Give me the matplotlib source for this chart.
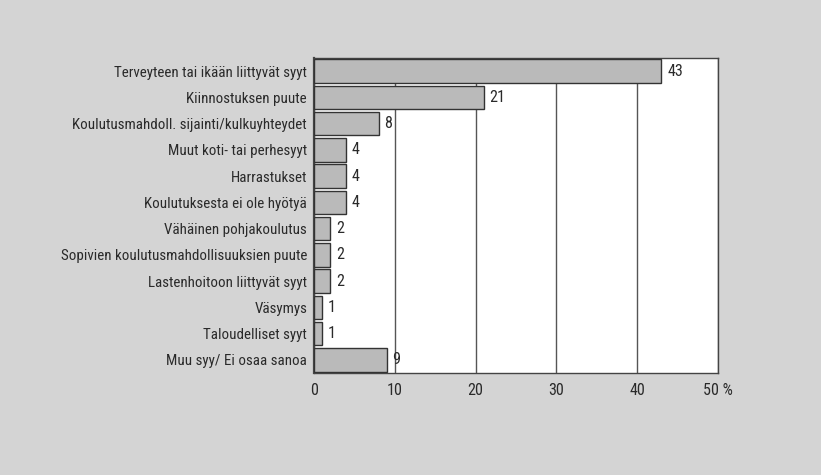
import matplotlib
matplotlib.use("Agg")
import matplotlib.pyplot as plt
from matplotlib import font_manager

categories = [
    "Terveyteen tai ikään liittyvät syyt",
    "Kiinnostuksen puute",
    "Koulutusmahdoll. sijainti/kulkuyhteydet",
    "Muut koti- tai perhesyyt",
    "Harrastukset",
    "Koulutuksesta ei ole hyötyä",
    "Vähäinen pohjakoulutus",
    "Sopivien koulutusmahdollisuuksien puute",
    "Lastenhoitoon liittyvät syyt",
    "Väsymys",
    "Taloudelliset syyt",
    "Muu syy/ Ei osaa sanoa",
]
values = [43, 21, 8, 4, 4, 4, 2, 2, 2, 1, 1, 9]
x_ticks = [0, 10, 20, 30, 40, 50]
x_tick_labels = ["0", "10", "20", "30", "40", "50 %"]

# Prefer a condensed sans face for the labels
names = {f.name for f in font_manager.fontManager.ttflist}
stretch = "normal"
fsize = 8.6
for cand, sz in [("Liberation Sans Narrow", 11.3), ("Roboto Condensed", 10.8),
                 ("Open Sans Condensed", 10.8), ("DejaVu Sans Condensed", 10.2)]:
    if cand in names:
        family = cand
        fsize = sz
        break
else:
    family = "DejaVu Sans"
    cond = [f for f in font_manager.fontManager.ttflist
            if f.name == "DejaVu Sans" and str(f.stretch) in ("condensed", "semi-condensed")]
    if cond:
        stretch = "condensed"
        fsize = 10.2
plt.rcParams["font.family"] = [family, "DejaVu Sans"]
plt.rcParams["font.stretch"] = stretch

bg = "#d4d4d4"
text_c = "#2a2a2a"

fig = plt.figure(figsize=(8.21, 4.75), dpi=100, facecolor=bg)
ax = fig.add_axes([0.3825, 0.2147, 0.492, 0.6633])
ax.set_facecolor("white")

y = list(range(len(categories)))
ax.barh(y, values, height=0.9, color="#bababa", edgecolor="#333333",
        linewidth=1.0, zorder=3)

for yi, v in zip(y, values):
    ax.text(v + 0.7, yi, str(v), va="center", ha="left", fontsize=fsize + 0.8,
            color=text_c, zorder=4)

ax.set_xlim(0, 50)
ax.set_ylim(len(categories) - 0.5, -0.5)
ax.set_xticks(x_ticks)
ax.set_xticklabels(x_tick_labels)
ax.set_yticks(y)
ax.set_yticklabels(categories)
ax.tick_params(axis="both", length=0, labelsize=fsize, colors=text_c)
ax.tick_params(axis="x", pad=7, labelsize=fsize + 0.8)
ax.tick_params(axis="y", pad=5)
ax.xaxis.grid(True, color="#555555", linewidth=1.0, zorder=1)
ax.set_axisbelow(True)
for s in ax.spines.values():
    s.set_color("#444444")
    s.set_linewidth(1.0)
ax.spines["left"].set_linewidth(1.6)

fig.savefig("out.png", dpi=100, facecolor=bg)
